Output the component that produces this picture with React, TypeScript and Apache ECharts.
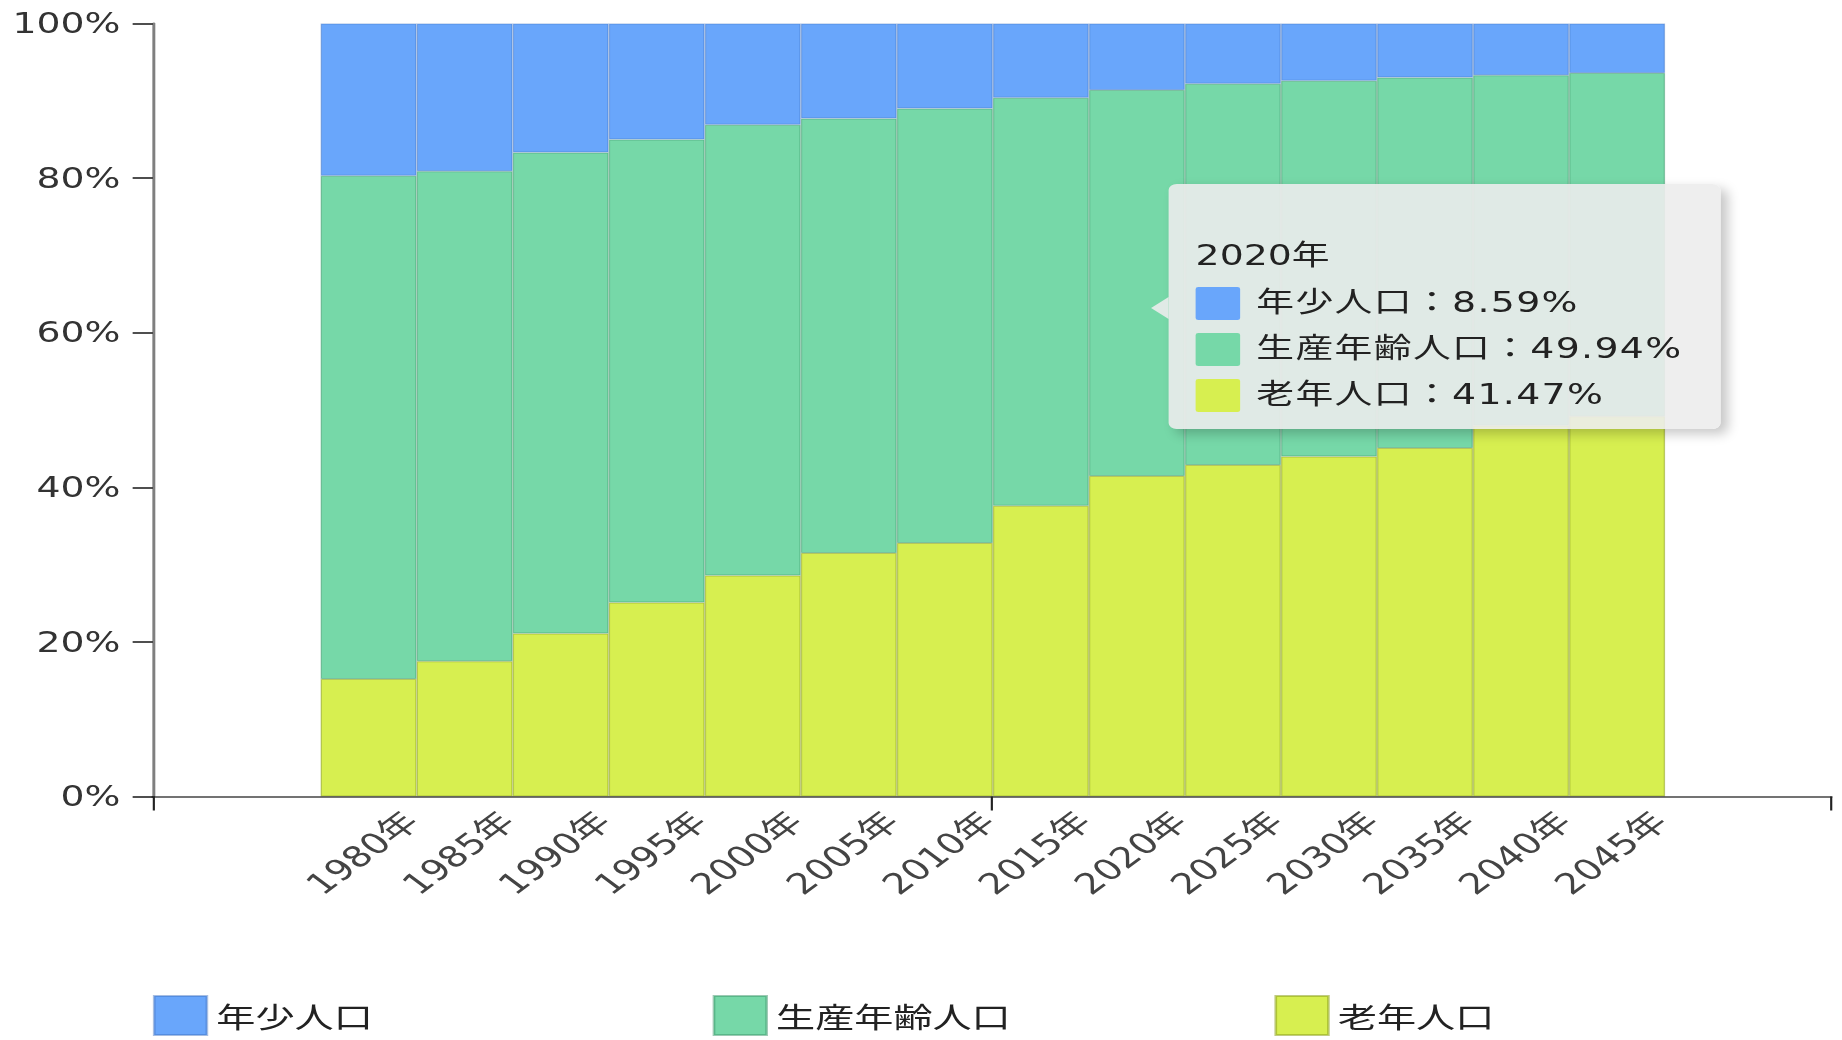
import React, { useEffect, useRef } from "react";
import * as echarts from "echarts";

const years = ["1980年", "1985年", "1990年", "1995年", "2000年", "2005年", "2010年", "2015年", "2020年", "2025年", "2030年", "2035年", "2040年", "2045年"];
const youth = [19.7, 19.1, 16.7, 15.0, 13.1, 12.3, 11.0, 9.6, 8.59, 7.8, 7.4, 7.0, 6.7, 6.4];
const working = [65.1, 63.4, 62.2, 59.9, 58.3, 56.2, 56.2, 52.8, 49.94, 49.3, 48.6, 47.9, 45.3, 44.4];
const elderly = [15.2, 17.5, 21.1, 25.1, 28.6, 31.5, 32.8, 37.6, 41.47, 42.9, 44.0, 45.1, 48.0, 49.2];
const seriesNames = ["年少人口", "生産年齢人口", "老年人口"];
const colors = ["#69a6fb", "#76d8a8", "#d7ef50"];
const borderColors = ["rgba(60,110,190,0.45)", "rgba(60,150,105,0.5)", "rgba(140,160,30,0.55)"];
const yTicks = [0, 20, 40, 60, 80, 100];
const tooltipIndex = 8;

const W = 1365;
const H = 1040;
const SX = 1842 / W;

const FONT_LATIN = "'DejaVu Sans', 'Noto Sans CJK JP', sans-serif";
const FONT_CJK = "'Noto Sans CJK JP', 'DejaVu Sans', sans-serif";

export default function App() {
  const ref = useRef<HTMLDivElement>(null);
  useEffect(() => {
    if (!ref.current) return;
    const chart = echarts.init(ref.current, undefined, { renderer: "svg" });
    const values = [youth, working, elderly];

    const gridTop = 23.5;
    const gridBottom = 243.5;
    const barLeft = 237.6;
    const barRight = 131.1;
    const half = (W - barLeft - barRight) / years.length / 2;
    const labelShift = half - 4;

    const tooltipFormatter = () => {
      const i = tooltipIndex;
      let html = `<div style="position:absolute;left:-13px;top:113px;width:0;height:0;border-top:11px solid transparent;border-bottom:11px solid transparent;border-right:13px solid rgba(236,236,236,0.9);"></div>`;
      html += `<div style="line-height:46px;height:46px;white-space:nowrap;font-family:${FONT_LATIN}">${years[i]}</div>`;
      for (let k = 0; k < 3; k++) {
        html += `<div style="line-height:46px;height:46px;white-space:nowrap;letter-spacing:1px;font-family:${FONT_LATIN}"><span style="display:inline-block;width:33px;height:33px;vertical-align:middle;margin-right:12px;background:${colors[k]};border-radius:2px"></span><span style="vertical-align:middle">${seriesNames[k]}：${values[k][i].toFixed(2)}%</span></div>`;
      }
      return html;
    };

    const legendLefts = [108.3, 523.1, 939.4];

    chart.setOption({
      animation: false,
      grid: [
        { left: 113.3, right: 8, top: gridTop, bottom: gridBottom },
        { left: barLeft, right: barRight, top: gridTop, bottom: gridBottom },
        { left: barLeft + labelShift, right: barRight - labelShift, top: gridTop, bottom: gridBottom },
      ],
      xAxis: [
        {
          gridIndex: 0,
          type: "value",
          min: 0,
          max: 2,
          interval: 1,
          z: 5,
          axisLine: { show: true, lineStyle: { color: "rgba(0,0,0,0.55)", width: 2.2 } },
          axisTick: { show: true, length: 14, lineStyle: { color: "#222", width: 1.6 } },
          axisLabel: { show: false },
          splitLine: { show: false },
        },
        {
          gridIndex: 1,
          type: "category",
          data: years,
          axisLine: { show: false },
          axisTick: { show: false },
          axisLabel: { show: false },
        },
        {
          gridIndex: 2,
          type: "category",
          data: years,
          axisLine: { show: false },
          axisTick: { show: false },
          axisLabel: {
            rotate: 45,
            margin: 20,
            fontSize: 29,
            color: "#444",
            fontFamily: FONT_LATIN,
            interval: 0,
          },
        },
      ],
      yAxis: [
        {
          gridIndex: 0,
          type: "value",
          min: 0,
          max: 100,
          interval: 20,
          axisLine: { show: true, lineStyle: { color: "rgba(0,0,0,0.5)", width: 2.2 } },
          axisTick: { show: true, length: 15, lineStyle: { color: "#222", width: 1.6 } },
          axisLabel: {
            formatter: "{value}%",
            margin: 24,
            fontSize: 28,
            color: "#333",
            fontFamily: FONT_LATIN,
            customValues: yTicks,
          },
          splitLine: { show: false },
        },
        { gridIndex: 1, type: "value", min: 0, max: 100, show: false },
        { gridIndex: 2, type: "value", min: 0, max: 100, show: false },
      ],
      legend: seriesNames.map((n, k) => ({
        data: [n],
        left: legendLefts[k],
        top: 990,
        icon: "rect",
        itemWidth: 39,
        itemHeight: 39,
        textStyle: { fontSize: 29, color: "#222", fontFamily: FONT_CJK, padding: [0, 0, 0, 2] },
      })),
      tooltip: {
        trigger: "item",
        triggerOn: "none",
        alwaysShowContent: true,
        transitionDuration: 0,
        position: [866, 184],
        padding: [49, 16, 12, 20],
        backgroundColor: "rgba(236,236,236,0.9)",
        borderWidth: 0,
        textStyle: { fontSize: 28, color: "#222" },
        extraCssText:
          "width:409px;height:245px;box-sizing:border-box;box-shadow:5px 5px 10px rgba(0,0,0,0.22);border-radius:6px;",
        formatter: tooltipFormatter,
      },
      series: [
        {
          name: seriesNames[2],
          type: "bar",
          stack: "total",
          xAxisIndex: 1,
          yAxisIndex: 1,
          barWidth: "100%",
          data: elderly,
          itemStyle: { color: colors[2], borderColor: borderColors[2], borderWidth: 1 },
        },
        {
          name: seriesNames[1],
          type: "bar",
          stack: "total",
          xAxisIndex: 1,
          yAxisIndex: 1,
          barWidth: "100%",
          data: working,
          itemStyle: { color: colors[1], borderColor: borderColors[1], borderWidth: 1 },
        },
        {
          name: seriesNames[0],
          type: "bar",
          stack: "total",
          xAxisIndex: 1,
          yAxisIndex: 1,
          barWidth: "100%",
          data: youth,
          itemStyle: { color: colors[0], borderColor: borderColors[0], borderWidth: 1 },
        },
      ],
    });
    chart.dispatchAction({ type: "showTip", seriesIndex: 1, dataIndex: tooltipIndex });
    return () => chart.dispose();
  }, []);

  return (
    <div
      style={{
        position: "fixed",
        left: 0,
        top: 0,
        width: 1842,
        height: H,
        overflow: "hidden",
        background: "#fff",
      }}
    >
      <div
        ref={ref}
        style={{
          width: W,
          height: H,
          transform: `scaleX(${SX})`,
          transformOrigin: "0 0",
        }}
      />
    </div>
  );
}
